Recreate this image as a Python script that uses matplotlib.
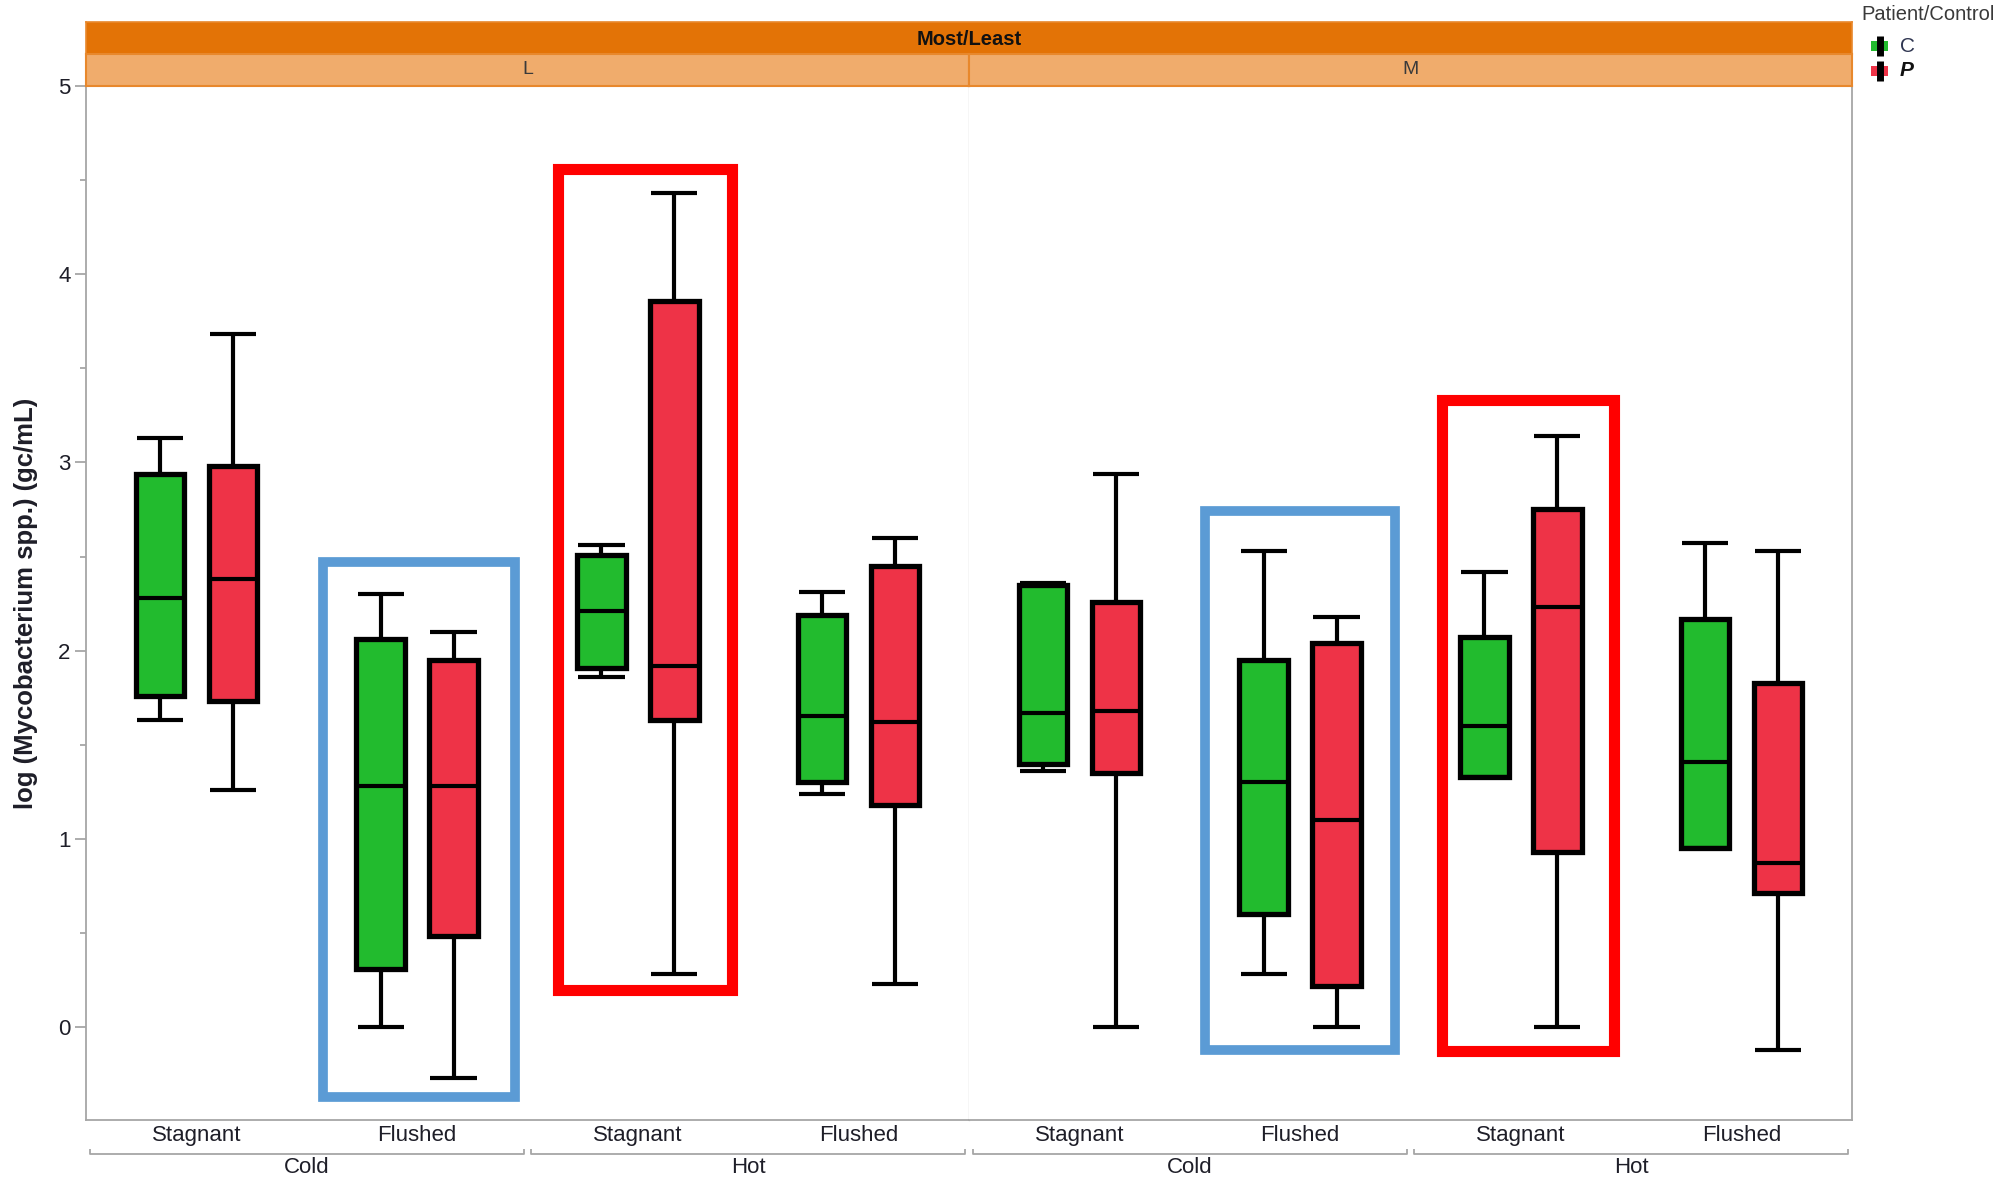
import matplotlib
matplotlib.use("Agg")
import matplotlib.pyplot as plt
from matplotlib.patches import Rectangle
from matplotlib.lines import Line2D
from matplotlib.ticker import MultipleLocator
from matplotlib.transforms import blended_transform_factory

plt.rcParams["font.family"] = ["Liberation Sans", "DejaVu Sans"]
plt.rcParams["lines.solid_capstyle"] = "butt"

# ---- data ---------------------------------------------------------------
panels = ["L", "M"]
panel_title = "Most/Least"
categories = ["Stagnant", "Flushed", "Stagnant", "Flushed"]
temperature_groups = ["Cold", "Hot"]
series = ["C", "P"]
legend_title = "Patient/Control"
y_label = "log (Mycobacterium spp.) (gc/mL)"
y_ticks = [0, 1, 2, 3, 4, 5]

# five-number summaries per category (Cold Stagnant, Cold Flushed, Hot Stagnant, Hot Flushed)
L_C_whislo = [1.63, 0.00, 1.86, 1.24]
L_C_q1 = [1.76, 0.31, 1.91, 1.30]
L_C_med = [2.28, 1.28, 2.21, 1.65]
L_C_q3 = [2.94, 2.06, 2.51, 2.19]
L_C_whishi = [3.13, 2.30, 2.56, 2.31]

L_P_whislo = [1.26, -0.27, 0.28, 0.23]
L_P_q1 = [1.73, 0.485, 1.63, 1.18]
L_P_med = [2.38, 1.28, 1.92, 1.62]
L_P_q3 = [2.98, 1.95, 3.86, 2.45]
L_P_whishi = [3.68, 2.10, 4.43, 2.60]

M_C_whislo = [1.36, 0.28, 1.33, 0.95]
M_C_q1 = [1.40, 0.60, 1.33, 0.95]
M_C_med = [1.67, 1.30, 1.60, 1.41]
M_C_q3 = [2.35, 1.95, 2.07, 2.17]
M_C_whishi = [2.36, 2.53, 2.42, 2.57]

M_P_whislo = [0.00, 0.00, 0.00, -0.12]
M_P_q1 = [1.35, 0.22, 0.93, 0.71]
M_P_med = [1.68, 1.10, 2.23, 0.87]
M_P_q3 = [2.26, 2.04, 2.75, 1.83]
M_P_whishi = [2.94, 2.18, 3.14, 2.53]

summaries = {
    ("L", "C"): (L_C_whislo, L_C_q1, L_C_med, L_C_q3, L_C_whishi),
    ("L", "P"): (L_P_whislo, L_P_q1, L_P_med, L_P_q3, L_P_whishi),
    ("M", "C"): (M_C_whislo, M_C_q1, M_C_med, M_C_q3, M_C_whishi),
    ("M", "P"): (M_P_whislo, M_P_q1, M_P_med, M_P_q3, M_P_whishi),
}

# highlight frames: (panel, x0, x1, y0, y1, colour, width) in category / value units
highlights = [
    ("L", 0.574, 1.442, -0.37, 2.47, "#5B9BD5", 7.0),
    ("L", 1.640, 2.426, 0.195, 4.56, "#FF0000", 8.0),
    ("M", 0.568, 1.430, -0.12, 2.74, "#5B9BD5", 7.0),
    ("M", 1.641, 2.421, -0.13, 3.33, "#FF0000", 8.0),
]

# ---- styling ------------------------------------------------------------
series_colors = {"C": "#22BB2E", "P": "#EE3347"}
series_offset = {"C": -0.165, "P": 0.165}
box_width = 0.22
spine_gray = "#A6A6A6"
text_dark = "#1E1E28"
header_dark = "#E37306"
header_light = "#F0AC6C"
header_edge = "#E8882C"

W, H = 2015, 1178
fig = plt.figure(figsize=(W / 100, H / 100), dpi=100)


def fx(px):
    return px / W


def fy(py):
    return 1 - py / H


ax_left, ax_split, ax_right = 86, 969, 1852
ax_top, ax_bottom = 86, 1120
ylim = (-0.494, 5.0)

axes = {}
for i, p in enumerate(panels):
    x0 = ax_left if i == 0 else ax_split
    x1 = ax_split if i == 0 else ax_right
    ax = fig.add_axes([fx(x0), fy(ax_bottom), fx(x1 - x0), (ax_bottom - ax_top) / H])
    axes[p] = ax
    ax.set_xlim(-0.5, 3.5)
    ax.set_ylim(*ylim)
    ax.spines["top"].set_visible(False)
    for s in ("left", "right", "bottom"):
        ax.spines[s].set_color(spine_gray)
        ax.spines[s].set_linewidth(1.3)

    # boxes for each series
    for s in series:
        lo, q1, med, q3, hi = summaries[(p, s)]
        stats = [dict(whislo=lo[k], q1=q1[k], med=med[k], q3=q3[k], whishi=hi[k], fliers=[])
                 for k in range(len(categories))]
        pos = [k + series_offset[s] for k in range(len(categories))]
        ax.bxp(stats, positions=pos, widths=box_width, capwidths=box_width * 0.95,
               patch_artist=True, showfliers=False, manage_ticks=False,
               boxprops=dict(facecolor=series_colors[s], edgecolor="black", linewidth=3.8),
               whiskerprops=dict(color="black", linewidth=3.0),
               capprops=dict(color="black", linewidth=3.0),
               medianprops=dict(color="black", linewidth=3.0),
               zorder=2)

    # category tick labels
    ax.set_xticks(range(len(categories)))
    ax.set_xticklabels(categories, fontsize=16, color=text_dark)
    ax.tick_params(axis="x", length=0, pad=3.5)

    # temperature brackets and labels
    trans = blended_transform_factory(ax.transData, ax.transAxes)
    by = -0.0329
    for g, name in enumerate(temperature_groups):
        gx0 = 2 * g - 0.483
        gx1 = 2 * g + 1.483
        ax.add_line(Line2D([gx0, gx0, gx1, gx1], [by + 0.005, by, by, by + 0.005],
                           transform=trans, color=spine_gray, lw=1.3, clip_on=False))
        ax.text(2 * g + 0.5, -0.0455, name, transform=trans, ha="center", va="center",
                fontsize=16, color=text_dark)

    # highlight frames
    for hp, hx0, hx1, hy0, hy1, hc, hw in highlights:
        if hp == p:
            ax.add_patch(Rectangle((hx0, hy0), hx1 - hx0, hy1 - hy0, fill=False,
                                   edgecolor=hc, linewidth=hw, joinstyle="miter",
                                   clip_on=False, zorder=3))

ax_L, ax_M = axes["L"], axes["M"]
ax_L.spines["right"].set_color("#D6D6D6")
ax_L.spines["right"].set_linewidth(1.0)
ax_M.spines["left"].set_visible(False)
ax_M.tick_params(axis="y", left=False, labelleft=False, which="both")

ax_L.set_yticks(y_ticks)
ax_L.yaxis.set_minor_locator(MultipleLocator(0.5))
ax_L.tick_params(axis="y", which="major", length=8, width=1.3, color=spine_gray,
                 labelsize=16, labelcolor=text_dark, pad=3)
ax_L.tick_params(axis="y", which="minor", length=4.5, width=1.3, color=spine_gray)
ax_L.set_ylabel(y_label, fontsize=18.5, fontweight="bold", color=text_dark)
ax_L.yaxis.set_label_coords(-0.0544, 0.5)
ax_M.set_yticks(y_ticks)
ax_M.yaxis.set_minor_locator(MultipleLocator(0.5))

# ---- header strips --------------------------------------------------------
hdr = fig.add_axes([fx(ax_left), fy(54), fx(ax_right - ax_left), 32 / H])
hdr.set_facecolor(header_dark)
hdr.set_xticks([])
hdr.set_yticks([])
for s in hdr.spines.values():
    s.set_color(header_edge)
    s.set_linewidth(1.2)
hdr.text(0.5, 0.45, panel_title, ha="center", va="center", fontsize=14.5,
         fontweight="bold", color="#111111")

for i, p in enumerate(panels):
    x0 = ax_left if i == 0 else ax_split
    x1 = ax_split if i == 0 else ax_right
    sub = fig.add_axes([fx(x0), fy(ax_top), fx(x1 - x0), 32 / H])
    sub.set_facecolor(header_light)
    sub.set_xticks([])
    sub.set_yticks([])
    for s in sub.spines.values():
        s.set_color(header_edge)
        s.set_linewidth(1.5)
    sub.text(0.5, 0.5, p, ha="center", va="center", fontsize=14,
             color="#3A3A3A")

# ---- legend ------------------------------------------------------------------
fig.text(fx(1861), fy(14), legend_title, ha="left", va="center", fontsize=14.5,
         color="#3A3A3A")
legend_rows = {"C": 46, "P": 71}
for s in series:
    cy = legend_rows[s]
    fig.add_artist(Line2D([fx(1880), fx(1880)], [fy(cy - 10), fy(cy + 10)],
                          transform=fig.transFigure, color="black", lw=5))
    fig.add_artist(Rectangle((fx(1871), fy(cy + 4.5)), fx(17), 9 / H,
                             transform=fig.transFigure, facecolor=series_colors[s],
                             edgecolor="none"))
    fig.text(fx(1900), fy(cy), s, ha="left", va="center", fontsize=15,
             color="#2E3550" if s == "C" else "#111111",
             fontweight="bold" if s == "P" else "normal",
             style="italic" if s == "P" else "normal")

fig.savefig("out.png", dpi=100, facecolor="white")
